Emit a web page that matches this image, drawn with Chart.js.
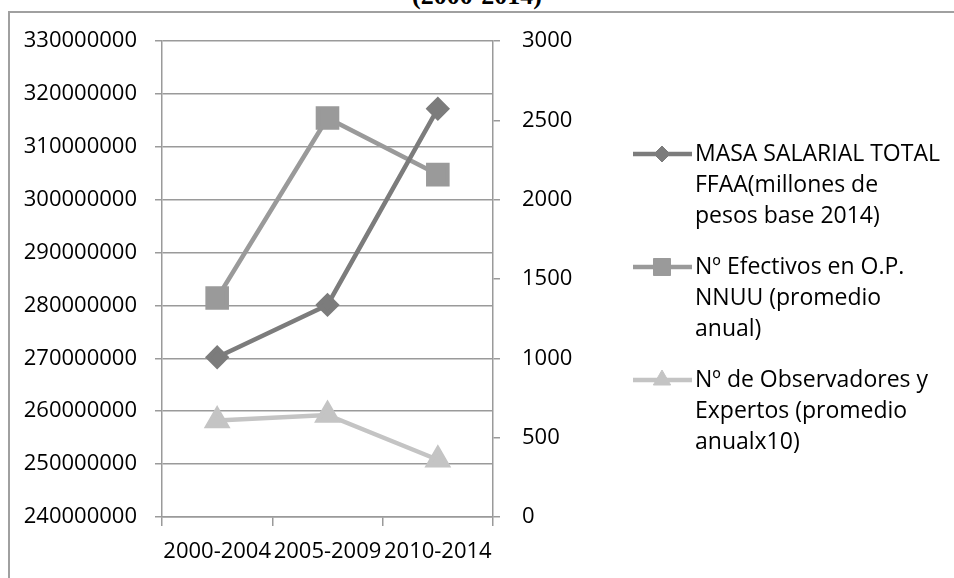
<!DOCTYPE html>
<html>
<head>
<meta charset="utf-8">
<script src="https://cdn.jsdelivr.net/npm/chart.js@4.4.1/dist/chart.umd.min.js"></script>
<style>
  html, body { margin: 0; padding: 0; background: #fff; overflow: hidden; }
  #wrap { position: relative; width: 954px; height: 578px; overflow: hidden; }
  #frame {
    position: absolute; left: 8px; top: 11px; width: 1000px; height: 700px;
    border-left: 2px solid #a0a0a0; border-top: 2px solid #a0a0a0;
  }
  #title {
    position: absolute; left: 0; top: -17px; width: 954px; text-align: center;
    font: bold 26px "Liberation Serif", "Times New Roman", serif; line-height: 26px; color: #000;
  }
  canvas { position: absolute; left: 0; top: 0; }
</style>
</head>
<body>
<div id="wrap">
  <div id="title">(2000-2014)</div>
  <div id="frame"></div>
  <canvas id="chart" width="954" height="578"></canvas>
</div>
<script>
// Data
const periods = ['2000-2004', '2005-2009', '2010-2014'];
const masaSalarial = [270200000, 280100000, 317200000];
const efectivos = [1380, 2515, 2158];
const observadores = [608, 643, 361];

const leftTicks = [240000000, 330000000, 10000000];   // min, max, step
const rightTicks = [0, 3000, 500];

const seriesLabels = [
    ['MASA SALARIAL TOTAL', 'FFAA(millones de', 'pesos base 2014)'],
    ['Nº Efectivos en O.P.', 'NNUU (promedio', 'anual)'],
    ['Nº de Observadores y', 'Expertos (promedio', 'anualx10)']
];

const FONT = '"Open Sans", "Liberation Sans", sans-serif';
const GRID = '#9a9a9a';

// draw a legend marker the same way the chart does
function drawMarker(ctx, style, x, y, r, color) {
    ctx.fillStyle = color;
    ctx.strokeStyle = color;
    ctx.lineWidth = 1;
    ctx.beginPath();
    if (style === 'rectRot') {
        ctx.moveTo(x - r, y); ctx.lineTo(x, y - r); ctx.lineTo(x + r, y); ctx.lineTo(x, y + r);
    } else if (style === 'rect') {
        const s = Math.SQRT1_2 * r;
        ctx.rect(x - s, y - s, 2 * s, 2 * s);
    } else {
        const h = r * Math.sqrt(3) / 2;
        ctx.moveTo(x, y - r); ctx.lineTo(x + h, y + r / 2); ctx.lineTo(x - h, y + r / 2);
    }
    ctx.closePath();
    ctx.fill();
    ctx.stroke();
}

// Side legend with wrapped labels
const sideLegend = {
    id: 'sideLegend',
    afterDraw(chart) {
        const ctx = chart.ctx;
        ctx.save();
        chart.data.datasets.forEach((ds, i) => {
            const y0 = 154 + i * 113;
            ctx.strokeStyle = ds.borderColor;
            ctx.lineWidth = ds.borderWidth;
            ctx.beginPath();
            ctx.moveTo(633, y0);
            ctx.lineTo(692, y0);
            ctx.stroke();
            drawMarker(ctx, ds.pointStyle, 662, y0, ds.legendRadius, ds.borderColor);
            ctx.fillStyle = '#000';
            ctx.font = '23px ' + FONT;
            ctx.textBaseline = 'middle';
            ctx.textAlign = 'left';
            seriesLabels[i].forEach((line, j) => {
                ctx.fillText(line, 695, y0 + j * 31);
            });
        });
        ctx.restore();
    }
};

const ctx = document.getElementById('chart').getContext('2d');
new Chart(ctx, {
    type: 'line',
    data: {
        labels: periods,
        datasets: [{
            label: seriesLabels[0].join(' '),
            data: masaSalarial,
            yAxisID: 'y',
            borderColor: '#7c7c7c',
            backgroundColor: '#7c7c7c',
            borderWidth: 4.5,
            pointStyle: 'rectRot',
            pointRadius: 9,
            legendRadius: 8,
            tension: 0
        }, {
            label: seriesLabels[1].join(' '),
            data: efectivos,
            yAxisID: 'y1',
            borderColor: '#9a9a9a',
            backgroundColor: '#9a9a9a',
            borderWidth: 4.5,
            pointStyle: 'rect',
            pointRadius: 13.5,
            legendRadius: 12,
            tension: 0
        }, {
            label: seriesLabels[2].join(' '),
            data: observadores,
            yAxisID: 'y1',
            borderColor: '#c4c4c4',
            backgroundColor: '#c4c4c4',
            borderWidth: 4.5,
            pointStyle: 'triangle',
            pointRadius: 11,
            legendRadius: 10,
            tension: 0
        }]
    },
    options: {
        responsive: false,
        animation: false,
        devicePixelRatio: 1,
        layout: { padding: { top: 41, right: 361, bottom: 0, left: 0 } },
        plugins: {
            legend: { display: false },
            tooltip: { enabled: false }
        },
        scales: {
            x: {
                offset: true,
                grid: { offset: true, drawOnChartArea: false, color: GRID, lineWidth: 1.5, tickLength: 9 },
                border: { color: GRID, width: 1.5 },
                ticks: { color: '#000', font: { family: FONT, size: 22 }, padding: 13, maxRotation: 0, autoSkip: false },
                afterFit(scale) { scale.height = 61; }
            },
            y: {
                position: 'left',
                min: leftTicks[0],
                max: leftTicks[1],
                ticks: {
                    stepSize: leftTicks[2],
                    color: '#000',
                    font: { family: FONT, size: 22 },
                    padding: 18,
                    callback: v => String(v)
                },
                grid: { color: GRID, lineWidth: 1.5, tickLength: 7 },
                border: { color: GRID, width: 1.5 },
                afterFit(scale) { scale.width = 162; }
            },
            y1: {
                position: 'right',
                min: rightTicks[0],
                max: rightTicks[1],
                ticks: {
                    stepSize: rightTicks[2],
                    color: '#000',
                    font: { family: FONT, size: 22 },
                    padding: 22,
                    callback: v => String(v)
                },
                grid: { drawOnChartArea: false, color: GRID, lineWidth: 1.5, tickLength: 7 },
                border: { color: GRID, width: 1.5 },
                afterFit(scale) { scale.width = 100; }
            }
        }
    },
    plugins: [sideLegend]
});
</script>
</body>
</html>
